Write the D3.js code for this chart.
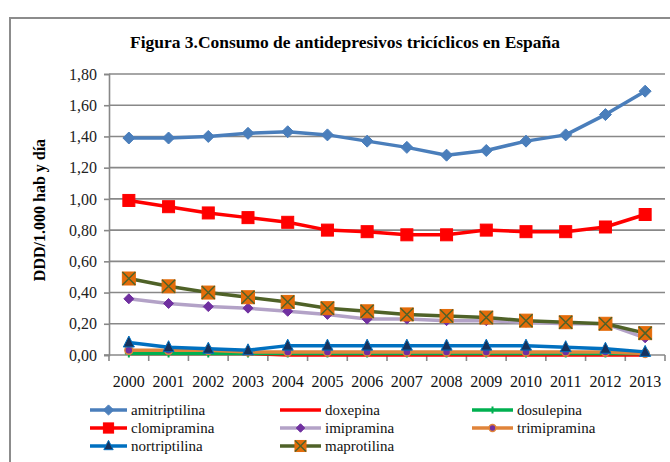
<!DOCTYPE html>
<html><head><meta charset="utf-8">
<script src="https://cdn.jsdelivr.net/npm/d3@7"></script>
<style>body{margin:0;background:#fff}svg{display:block}</style>
</head><body>
<svg id="c" width="670" height="462"></svg>
<script>
const years = ["2000","2001","2002","2003","2004","2005","2006","2007","2008","2009","2010","2011","2012","2013"];
const yTicks = [0,0.2,0.4,0.6,0.8,1.0,1.2,1.4,1.6,1.8];
const amitriptilina = [1.39,1.39,1.40,1.42,1.43,1.41,1.37,1.33,1.28,1.31,1.37,1.41,1.54,1.69];
const doxepina      = [0.01,0.01,0.01,0.01,0.00,0.00,0.00,0.00,0.00,0.00,0.00,0.00,0.00,0.00];
const dosulepina    = [0.01,0.01,0.01,0.01,0.01,0.01,0.01,0.01,0.01,0.01,0.01,0.01,0.01,0.01];
const clomipramina  = [0.99,0.95,0.91,0.88,0.85,0.80,0.79,0.77,0.77,0.80,0.79,0.79,0.82,0.90];
const imipramina    = [0.36,0.33,0.31,0.30,0.28,0.26,0.23,0.23,0.22,0.22,0.21,0.20,0.20,0.11];
const trimipramina  = [0.03,0.03,0.03,0.02,0.02,0.02,0.02,0.02,0.02,0.02,0.02,0.02,0.02,0.01];
const nortriptilina = [0.08,0.05,0.04,0.03,0.06,0.06,0.06,0.06,0.06,0.06,0.06,0.05,0.04,0.02];
const maprotilina   = [0.49,0.44,0.40,0.37,0.34,0.30,0.28,0.26,0.25,0.24,0.22,0.21,0.20,0.14];

const series = [
  {name:"amitriptilina", values:amitriptilina, line:"#4a7ebb", marker:"diamond", fill:"#4a7ebb", stroke:"#4a7ebb", size:12, col:0,row:0},
  {name:"doxepina", values:doxepina, line:"#ff0000", marker:"none", col:1,row:0},
  {name:"dosulepina", values:dosulepina, line:"#00b050", marker:"plus", fill:"none", stroke:"#00b050", size:8, col:2,row:0},
  {name:"clomipramina", values:clomipramina, line:"#ff0000", marker:"square", fill:"#ff0000", stroke:"#ff0000", size:12, col:0,row:1},
  {name:"imipramina", values:imipramina, line:"#b3a2c7", marker:"diamond", fill:"#7030a0", stroke:"#7030a0", size:10, col:1,row:1},
  {name:"trimipramina", values:trimipramina, line:"#e0843a", marker:"circle", fill:"#7030a0", stroke:"#e0843a", size:8, col:2,row:1},
  {name:"nortriptilina", values:nortriptilina, line:"#0070c0", marker:"triangle", fill:"#17325c", stroke:"#17325c", size:11, col:0,row:2},
  {name:"maprotilina", values:maprotilina, line:"#4f6228", marker:"xsquare", fill:"#e46c0a", stroke:"#4f6228", size:13, col:1,row:2}
];

const svg = d3.select("#c");
const serif = "Liberation Serif, Times New Roman, serif";

// outer frame
svg.append("rect").attr("x",10).attr("y",18).attr("width",700).attr("height",500)
  .attr("fill","none").attr("stroke","#8c8c8c").attr("stroke-width",2);

const x = d3.scaleBand().domain(years).range([109,665]);
const y = d3.scaleLinear().domain([0,1.8]).range([355,74]);
const cx = d => x(d) + x.bandwidth()/2;

// title
svg.append("text").attr("x",345).attr("y",48).attr("text-anchor","middle")
  .attr("font-family",serif).attr("font-weight","bold").attr("font-size",16.5)
  .attr("textLength",430).attr("lengthAdjust","spacingAndGlyphs")
  .text("Figura 3.Consumo de antidepresivos tricíclicos  en España");

// gridlines
svg.append("g").selectAll("line").data(yTicks.filter(t=>t>0)).join("line")
  .attr("x1",109).attr("x2",665).attr("y1",d=>y(d)).attr("y2",d=>y(d))
  .attr("stroke","#888").attr("stroke-width",1.6);

// y axis
const yAxis = d3.axisLeft(y).tickValues(yTicks).tickSize(5).tickPadding(7)
  .tickFormat(d => d3.format(".2f")(d).replace(".",","));
const gy = svg.append("g").attr("transform","translate(109,0)").call(yAxis);
gy.attr("font-family",serif);
gy.select(".domain").attr("stroke","#888").attr("stroke-width",1.6);
gy.selectAll(".tick line").attr("stroke","#888").attr("stroke-width",1.6);
gy.selectAll(".tick text").attr("font-family",serif).attr("font-size",16).attr("fill","#222");

// x axis
const xAxis = d3.axisBottom(x).tickSize(0).tickPadding(21);
const gx = svg.append("g").attr("transform","translate(0,355)").call(xAxis);
gx.attr("font-family",serif);
gx.select(".domain").remove();
gx.selectAll(".tick text").attr("font-family",serif).attr("font-size",16).attr("fill","#111");
svg.append("line").attr("x1",104).attr("x2",665).attr("y1",355).attr("y2",355)
  .attr("stroke","#888").attr("stroke-width",1.6);
const bounds = years.map(d=>x(d)).concat([665]);
svg.append("g").selectAll("line").data(bounds).join("line")
  .attr("x1",d=>d).attr("x2",d=>d).attr("y1",355).attr("y2",361)
  .attr("stroke","#888").attr("stroke-width",1.6);

// y title
svg.append("text").attr("transform","translate(45,210) rotate(-90)").attr("text-anchor","middle")
  .attr("font-family",serif).attr("font-weight","bold").attr("font-size",16)
  .text("DDD/1.000 hab y día");

function drawMarker(g, s, px, py, scale) {
  const k = s.size*(scale||1), h = k/2;
  if (s.marker==="diamond") {
    g.append("path").attr("d",`M${px},${py-h}L${px+h},${py}L${px},${py+h}L${px-h},${py}Z`)
      .attr("fill",s.fill).attr("stroke",s.stroke).attr("stroke-width",1);
  } else if (s.marker==="square") {
    g.append("rect").attr("x",px-h).attr("y",py-h).attr("width",k).attr("height",k)
      .attr("fill",s.fill).attr("stroke",s.stroke);
  } else if (s.marker==="xsquare") {
    g.append("rect").attr("x",px-h).attr("y",py-h).attr("width",k).attr("height",k)
      .attr("fill",s.fill).attr("stroke",s.fill);
    g.append("path").attr("d",`M${px-h},${py-h}L${px+h},${py+h}M${px+h},${py-h}L${px-h},${py+h}`)
      .attr("stroke",s.stroke).attr("stroke-width",1.5);
  } else if (s.marker==="triangle") {
    g.append("path").attr("d",`M${px},${py-h-1}L${px+h},${py+h-1}L${px-h},${py+h-1}Z`)
      .attr("fill",s.fill).attr("stroke","#0070c0").attr("stroke-width",1);
  } else if (s.marker==="circle") {
    g.append("circle").attr("cx",px).attr("cy",py).attr("r",h)
      .attr("fill",s.fill).attr("stroke",s.stroke).attr("stroke-width",1.5);
  } else if (s.marker==="plus") {
    g.append("path").attr("d",`M${px-h},${py}L${px+h},${py}M${px},${py-h}L${px},${py+h}`)
      .attr("stroke",s.stroke).attr("stroke-width",2);
  }
}

const line = d3.line().x((d,i)=>cx(years[i])).y(d=>y(d));
series.forEach(s => {
  const g = svg.append("g");
  g.append("path").datum(s.values).attr("d",line).attr("fill","none")
    .attr("stroke",s.line).attr("stroke-width",3.5).attr("stroke-linejoin","round");
  s.values.forEach((v,i)=>drawMarker(g,s,cx(years[i]),y(v)));
});

// legend
const colX = [90,280,472];
const rowY = [410,428,446];
const lw = [37,41,41];
series.forEach(s => {
  const g = svg.append("g");
  const x0 = colX[s.col], y0 = rowY[s.row], w = lw[s.col];
  g.append("line").attr("x1",x0).attr("x2",x0+w).attr("y1",y0).attr("y2",y0)
    .attr("stroke",s.line).attr("stroke-width",3.5);
  drawMarker(g,s,x0+w/2,y0,0.85);
  g.append("text").attr("x",x0+w+4).attr("y",y0+5).attr("font-family",serif)
    .attr("font-size",15).attr("fill","#111").text(s.name);
});
</script>
</body></html>
